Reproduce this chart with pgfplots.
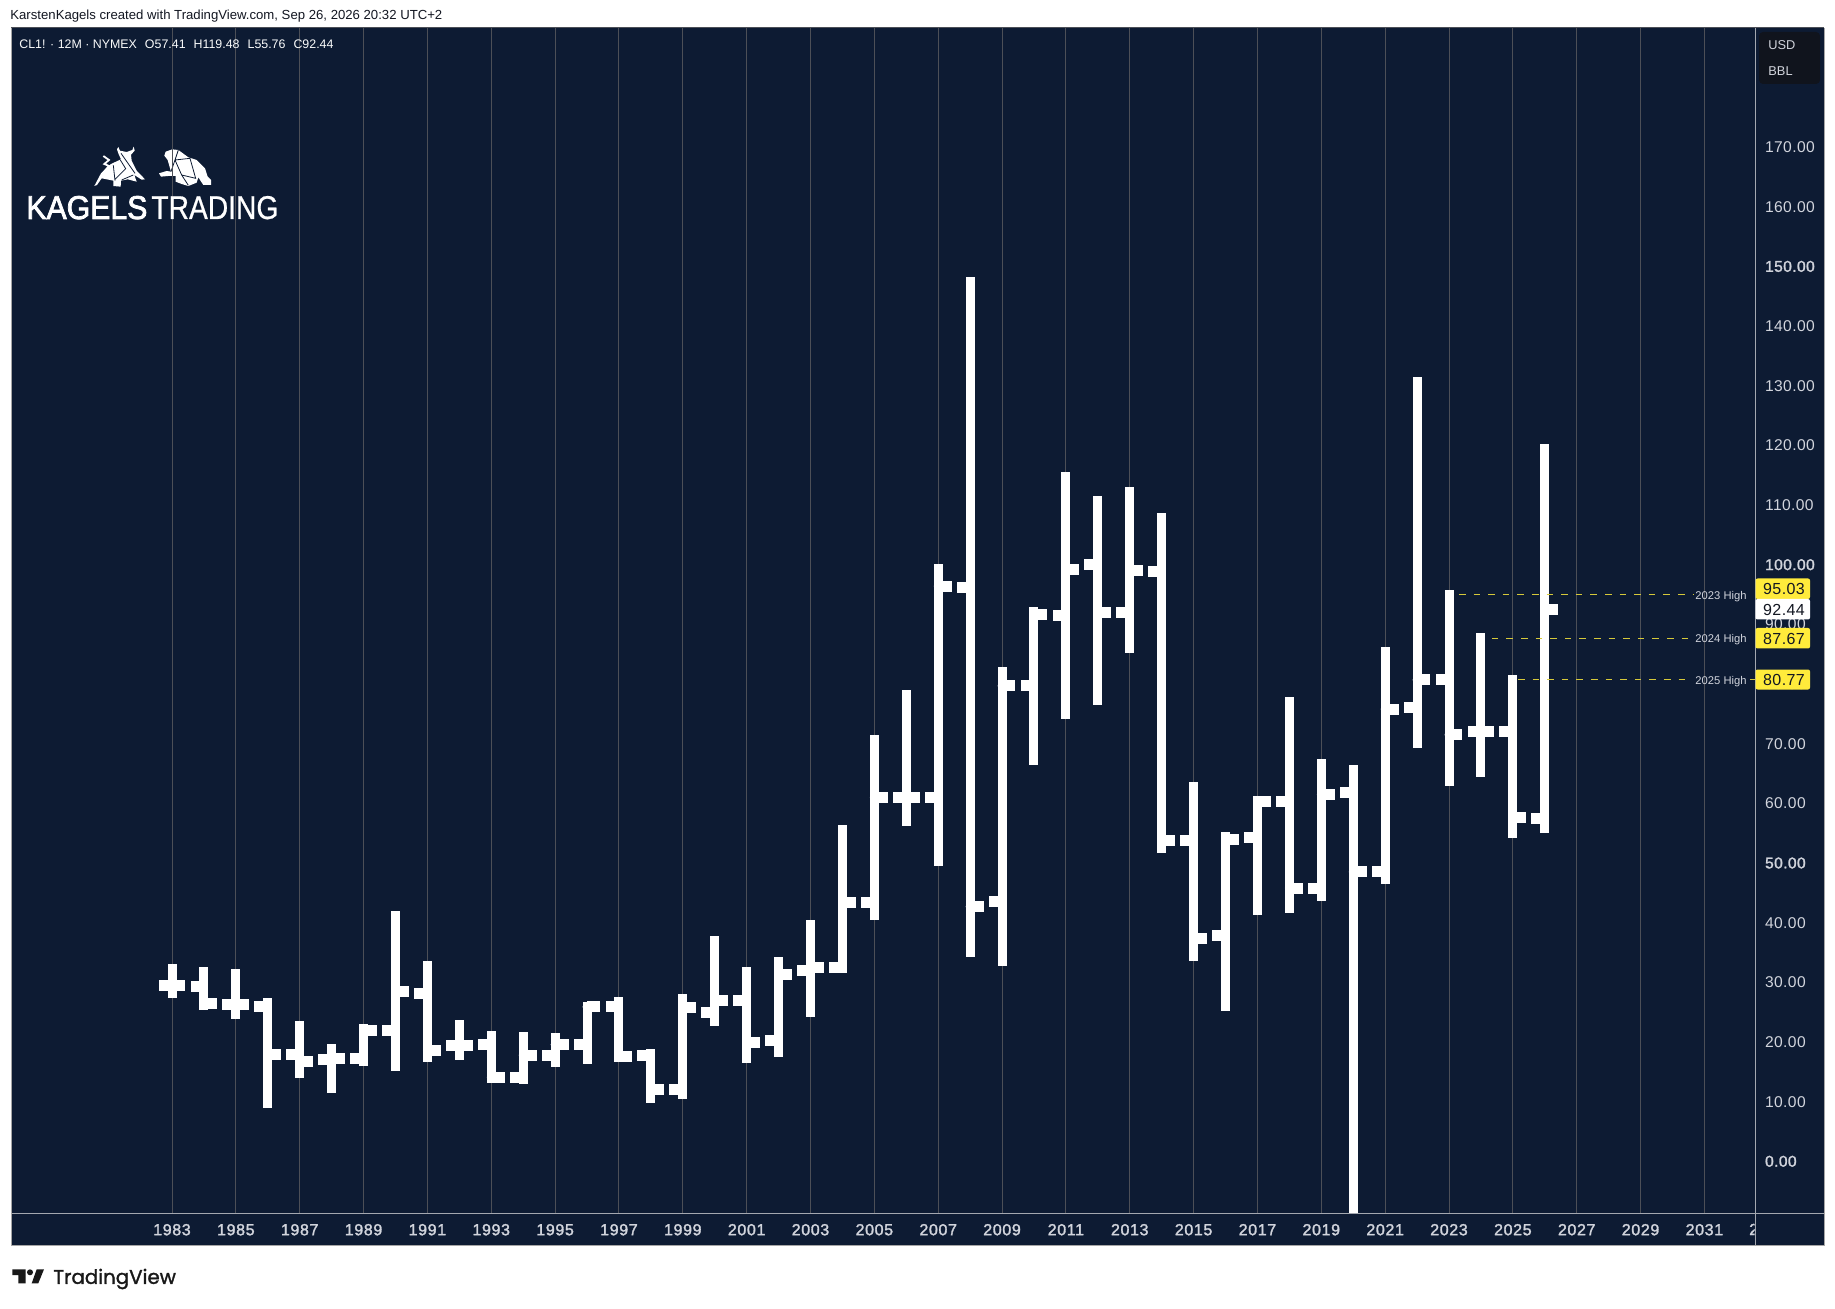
\documentclass[border=0pt]{standalone}
\usepackage{fontspec}
\usepackage{pgfplots}
\usepackage{pgfplotstable}
\pgfplotsset{compat=1.18}
\setmainfont{Liberation Sans}
\newfontfamily\yearfont[FakeBold=1.8,LetterSpace=4]{Liberation Sans}
\newfontfamily\pricefont[LetterSpace=2.5]{Liberation Sans}
\newfontfamily\pricebold[FakeBold=1.6,LetterSpace=2.5]{Liberation Sans}
\newfontfamily\tvfont[FakeBold=1.4]{Poppins}
\newfontfamily\logob[FakeBold=2.4]{Liberation Sans}
\newfontfamily\logor[FakeBold=0.7]{Liberation Sans}
\definecolor{pane}{HTML}{0D1B33}
\definecolor{gridc}{HTML}{4C4F57}
\definecolor{axisc}{HTML}{A4A8B0}
\definecolor{txt}{HTML}{D1D4DC}
\definecolor{tagy}{HTML}{FFEB3B}
\definecolor{dashy}{HTML}{D6C93A}
\definecolor{dark}{HTML}{131722}
\pgfdeclareplotmark{openT}{\pgfpathrectangle{\pgfqpoint{-6.7pt}{-2.75pt}}{\pgfqpoint{6.7pt}{5.5pt}}\pgfusepathqfill}
\pgfdeclareplotmark{closeT}{\pgfpathrectangle{\pgfqpoint{0pt}{-2.75pt}}{\pgfqpoint{6.7pt}{5.5pt}}\pgfusepathqfill}
\pgfplotstableread{
year high low open close
1983 33.1 27.4 29.5 29.5
1984 32.5 25.3 29.3 26.4
1985 32.3 23.9 26.2 26.2
1986 27.3 8.9 25.9 17.9
1987 23.5 13.9 17.9 16.7
1988 19.6 11.5 17.1 17.15
1989 23.0 16.0 17.15 21.85
1990 42.0 15.2 21.85 28.4
1991 33.5 16.65 28.1 18.6
1992 23.7 16.9 19.4 19.4
1993 21.9 13.1 19.5 14.1
1994 21.7 13.0 14.1 17.8
1995 21.5 15.8 17.7 19.55
1996 26.75 16.25 19.5 25.9
1997 27.5 16.7 25.9 17.65
1998 18.8 9.8 17.7 12.0
1999 28.0 10.5 12.1 25.75
2000 37.8 22.7 25.0 27.0
2001 32.5 16.4 27.0 19.9
2002 34.2 17.4 20.3 31.3
2003 40.5 24.2 31.9 32.5
2004 56.4 31.5 32.5 43.45
2005 71.5 40.5 43.4 61.0
2006 79.0 56.2 61.0 61.0
2007 100.1 49.5 61.0 96.4
2008 148.2 34.2 96.2 42.7
2009 82.9 32.7 43.6 79.7
2010 92.9 66.4 79.7 91.7
2011 115.6 74.2 91.5 99.2
2012 111.5 76.4 100.0 92.0
2013 113.1 85.2 92.0 99.0
2014 108.6 51.7 98.8 53.8
2015 63.5 33.6 53.8 37.4
2016 55.2 25.2 37.8 54.0
2017 61.3 41.3 54.2 60.3
2018 77.8 41.7 60.3 45.8
2019 67.4 43.6 45.8 61.5
2020 66.4 -40.32 61.9 48.5
2021 86.2 46.4 48.5 75.8
2022 131.4 69.3 76.0 80.7
2023 95.8 62.9 80.7 71.5
2024 88.5 64.4 72.1 72.1
2025 81.5 54.2 72.1 57.6
2026 120.3 55.0 57.41 92.44
}\ohlc
\begin{document}
\begin{tikzpicture}[x=1pt,y=1pt]
\fill[white] (0,0) rectangle (917.5,654);
\fill[pane] (5.5,31.5) rectangle (912,640);
\begin{axis}[
  at={(5.5pt,47.5pt)}, anchor=south west, scale only axis,
  width=872pt, height=592.5pt,
  xmin=1977.957, xmax=2032.585, ymin=-8.666, ymax=189.96,
  axis line style={draw=none}, axis background/.style={fill=pane},
  xtick={1983,1985,...,2031},
  x tick label style={/pgf/number format/1000 sep={},font=\fontsize{8}{9}\selectfont\yearfont,text=txt,yshift=-2pt},
  xticklabel={\pgfmathprintnumber[assume math mode=true,1000 sep={},precision=0]{\tick}},
  major tick length=0pt, xmajorgrids,
  x grid style={gridc,line width=0.5pt},
  ytick={0,10,...,170}, 
  yticklabels={{\pricebold 0.00},10.00,20.00,30.00,40.00,{\pricebold 50.00},60.00,70.00,80.00,90.00,{\pricebold 100.00},110.00,120.00,130.00,140.00,{\pricebold 150.00},160.00,170.00},
  yticklabel pos=right,
  y tick label style={font=\fontsize{7.8}{9}\selectfont\pricefont,text=txt,anchor=west,xshift=1.5pt},
  tick style={draw=none},
]
\addplot[white, only marks, mark=none, forget plot, draw=none,
  error bars/.cd, y dir=both, y explicit, error mark=none,
  error bar style={white,line width=4.5pt}]
  table[x=year,y=close,y error plus expr=\thisrow{high}-\thisrow{close},y error minus expr=\thisrow{close}-\thisrow{low}] {\ohlc};
\addplot[only marks, mark=openT, white, forget plot] table[x=year,y=open] {\ohlc};
\addplot[only marks, mark=closeT, white, forget plot] table[x=year,y=close] {\ohlc};
\addplot[dashy, line width=0.7pt, dash pattern=on 3.3pt off 4pt] coordinates {(2023.31,95.03)(2030.64,95.03)};
\addplot[dashy, line width=0.7pt, dash pattern=on 3.3pt off 4pt] coordinates {(2024.34,87.67)(2030.64,87.67)};
\addplot[dashy, line width=0.7pt, dash pattern=on 3.3pt off 4pt] coordinates {(2025.16,80.77)(2030.64,80.77)};
\addplot[dashy, line width=0.7pt] coordinates {(2032.42,80.77)(2032.58,80.77)};
\end{axis}
\begin{scope}[shift={(0,654)},x=0.5pt,y=-0.5pt]
% frame
\draw[axisc,line width=0.5pt] (1755,28) -- (1755,1245);
\draw[axisc,line width=0.5pt] (11,1213.5) -- (1824,1213.5);
\draw[gridc,line width=0.5pt] (11,28) -- (1824,28);
\draw[gray!70,line width=0.5pt] (11,28) -- (11,1245.5) -- (1824,1245.5) -- (1824,28);
% clipped tick label
\begin{scope}
\clip (1700,1216) rectangle (1754.5,1244);
\node[text=txt,font=\fontsize{8}{9}\selectfont\yearfont] at (1768,1229.5) {2033};
\end{scope}
% unit box
\fill[dark!85!black,rounded corners=2pt] (1759,32) rectangle (1820,84);
\node[anchor=west,inner sep=0pt,text=txt,font=\fontsize{6.4}{8}\selectfont] at (1768,45) {USD};
\node[anchor=west,inner sep=0pt,text=txt,font=\fontsize{6.4}{8}\selectfont] at (1768,71) {BBL};
% header
\node[anchor=west,text=dark,inner sep=0pt,font=\fontsize{6.58}{8}\selectfont] at (10,16) {KarstenKagels created with TradingView.com, Sep 26, 2026 20:32 UTC+2};
\node[anchor=west,text=white!90!txt,inner sep=0pt,font=\fontsize{6.2}{8}\selectfont] at (19,44) {CL1! · 12M · NYMEX\hspace{4pt}O57.41\hspace{4pt}H119.48\hspace{4pt}L55.76\hspace{4pt}C92.44};
% tags
\tikzset{tag/.style={inner sep=0pt,font=\fontsize{8}{9}\selectfont\pricefont,text=dark}}
\fill[tagy,rounded corners=1pt] (1755.5,578.5) rectangle (1810,599);
\fill[white,rounded corners=1pt] (1755.5,599) rectangle (1810,619.5);
\fill[tagy,rounded corners=1pt] (1755.5,628) rectangle (1810,648.5);
\fill[tagy,rounded corners=1pt] (1755.5,669.5) rectangle (1810,689.5);
\node[tag] at (1784,589) {95.03};
\node[tag] at (1784,609.5) {92.44};
\node[tag] at (1784,638.5) {87.67};
\node[tag] at (1784,679.5) {80.77};
\tikzset{hl/.style={inner sep=0pt,font=\fontsize{5.6}{7}\selectfont,text=txt}}
\node[hl] at (1721,596.5) {2023 High};
\node[hl] at (1721,640) {2024 High};
\node[hl] at (1721,681.5) {2025 High};
% logo text
\node[anchor=base west,white,inner sep=0pt] at (26,219) {\resizebox{60.5pt}{11.5pt}{\logob KAGELS}};
\node[anchor=base west,white,inner sep=0pt] at (151,219) {\resizebox{63.5pt}{11.5pt}{\logor TRADING}};
% logo animals
\begin{scope}[shift={(85,140)},scale=1/3]
\fill[white] (28,138) -- (48,100) -- (78,72) -- (108,58) -- (100,40) -- (96,28) -- (100,21) -- (105,32) -- (125,36) -- (142,30) -- (146,20) -- (149,32) -- (138,44) -- (140,62) -- (155,92) -- (180,118) -- (170,119) -- (148,105) -- (155,125) -- (128,118) -- (108,122) -- (107,140) -- (85,138) -- (85,122) -- (50,115) -- (36,135) -- cycle;
\draw[white,line width=0.9pt] (55,48) -- (72,60) -- (58,72) -- (72,78) -- (58,94);
\draw[pane,line width=0.4pt] (85,76) -- (90,122) (108,40) -- (150,100) (106,60) -- (122,86) -- (90,118) (110,120) -- (145,105);
\fill[white] (222,100) -- (245,93) -- (258,95) -- (248,60) -- (238,47) -- (242,35) -- (262,28) -- (280,30) -- (310,52) -- (335,60) -- (360,85) -- (368,110) -- (378,120) -- (378,135) -- (355,135) -- (340,112) -- (335,128) -- (310,138) -- (290,132) -- (272,125) -- (272,108) -- (250,108) -- (228,110) -- cycle;
\draw[pane,line width=0.4pt] (280,30) -- (270,60) -- (315,55) -- (332,115) -- (290,105) -- (270,60) (290,105) -- (310,136) (258,95) -- (270,60);
\draw[gridc,line width=0.5pt] (261,-10) -- (261,160);
\end{scope}
% tradingview
\node[anchor=west,text=black!90,inner sep=0pt,font=\fontsize{9.9}{12}\selectfont\tvfont] at (53,1279) {TradingView};
\fill[black!90] (12.3,1269.3) -- (25.7,1269.3) -- (25.7,1283.3) -- (18.3,1283.3) -- (18.3,1275) -- (12.3,1275) -- cycle;
\fill[black!90] (30,1272.3) circle[radius=3];
\fill[black!90] (44,1269.3) -- (36.7,1269.3) -- (31.7,1283.3) -- (38.3,1283.3) -- cycle;
\end{scope}
\end{tikzpicture}
\end{document}
